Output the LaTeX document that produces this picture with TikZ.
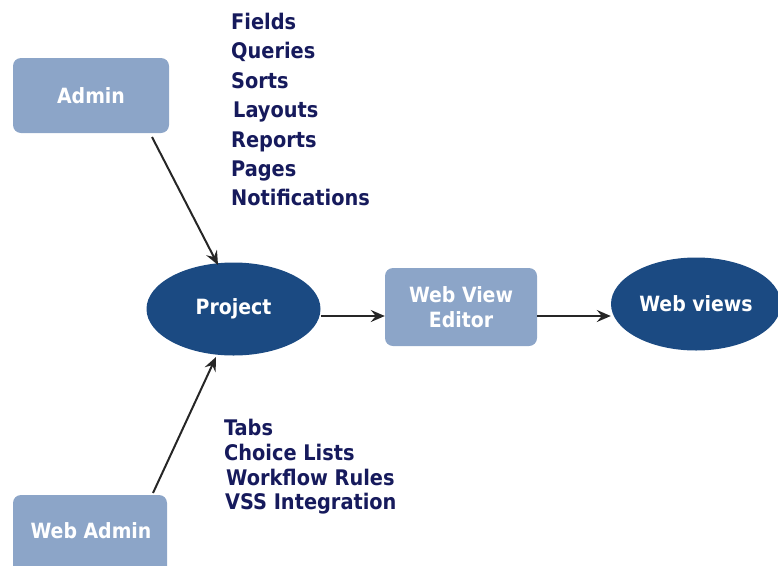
\documentclass[tikz,border=0pt]{standalone}
\usepackage{fontspec}
\setmainfont{DejaVu Sans Condensed}
\usetikzlibrary{shapes.geometric,arrows.meta}
\definecolor{boxblue}{HTML}{8CA5C8}
\definecolor{ovalblue}{HTML}{1B4A82}
\definecolor{navy}{HTML}{161A5C}
\begin{document}
\begin{tikzpicture}[x=1pt,y=-1pt,
  lbox/.style={draw=none,fill=boxblue,rounded corners=8pt,text=white,font=\bfseries\fontsize{21}{25}\selectfont,align=center,inner sep=0pt},
  oval/.style={ellipse,draw=none,fill=ovalblue,text=white,font=\bfseries\fontsize{21}{25}\selectfont,inner sep=0pt},
  item/.style={anchor=base west,text=navy,font=\bfseries\fontsize{21.5}{25}\selectfont,inner sep=0pt},
  conn/.style={draw=black!85,line width=2pt,-{Stealth[length=14pt,width=12pt,inset=5pt]}}]
\useasboundingbox (0,0) rectangle (778,565);
\clip (0,0) rectangle (778,565);
\node[lbox,minimum width=156pt,minimum height=75pt] (admin) at (91,95.5) {Admin};
\node[lbox,minimum width=154pt,minimum height=110pt] (webadmin) at (90,550) {};
\node[text=white,font=\bfseries\fontsize{21}{25}\selectfont,inner sep=0pt] (webadmintxt) at (91,531) {Web Admin};
\node[oval,minimum width=174pt,minimum height=93pt] (project) at (233.5,309) {Project};
\node[lbox,minimum width=152pt,minimum height=78pt] (editor) at (461,307) {Web View\\Editor};
\node[oval,minimum width=170pt,minimum height=93pt] (webviews) at (696,304) {Web views};
\node[item] (i1) at (231,29) {Fields};
\node[item] (i2) at (231,58.5) {Queries};
\node[item] (i3) at (231,88) {Sorts};
\node[item] (i4) at (233,117.5) {Layouts};
\node[item] (i5) at (231,147) {Reports};
\node[item] (i6) at (231,176.5) {Pages};
\node[item] (i7) at (231,205) {Notifications};
\node[item] (j1) at (224,435) {Tabs};
\node[item] (j2) at (224,460) {Choice Lists};
\node[item] (j3) at (226,485) {Workflow Rules};
\node[item] (j4) at (225,509.5) {VSS Integration};
\coordinate (a1) at (152,137);
\coordinate (a2) at (218,265);
\coordinate (b1) at (153,493);
\coordinate (b2) at (216,357);
\draw[conn] (a1) -- (a2);
\draw[conn] (b1) -- (b2);
\draw[conn] (project.east |- 0,316) -- (editor.west |- 0,316);
\draw[conn] (editor.east |- 0,316) -- (webviews.west |- 0,316);
\end{tikzpicture}
\end{document}
